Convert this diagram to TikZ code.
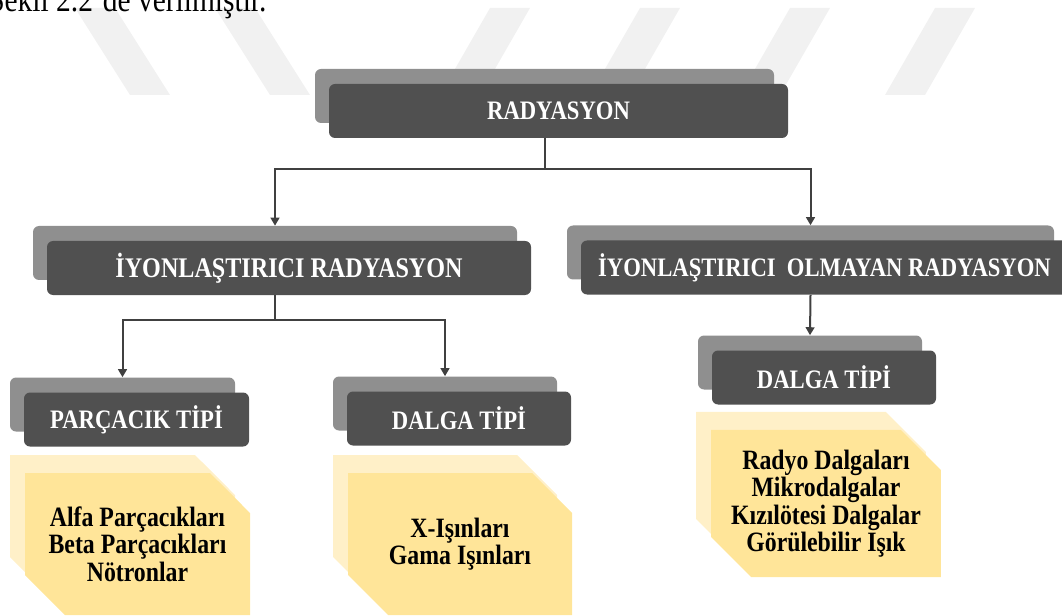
\documentclass[tikz,border=0pt]{standalone}
\usepackage{fontspec}
\setmainfont{Liberation Serif}[FakeStretch=0.85]
\usetikzlibrary{arrows.meta,shapes.misc,shadows,positioning}
\definecolor{boxdark}{RGB}{80,80,80}
\definecolor{boxgray}{RGB}{143,143,143}
\definecolor{wiregray}{RGB}{64,64,64}
\definecolor{listfront}{RGB}{255,229,153}
\definecolor{listback}{RGB}{255,240,200}
\definecolor{stripe}{RGB}{241,241,241}

\begin{document}
\begin{tikzpicture}[x=0.75pt,y=-0.75pt,
		backbox/.style = {rectangle, rounded corners=4.5pt, fill=boxgray,
			minimum height=40.5pt, inner sep=0pt},
		hdr/.style = {rectangle, rounded corners=4.5pt, fill=boxdark, text=white,
			minimum height=40.5pt, inner sep=0pt,
			font=\fontsize{20}{24}\selectfont\bfseries},
		list/.style = {chamfered rectangle,
			chamfered rectangle corners={north east,south west},
			chamfered rectangle xsep=15pt, chamfered rectangle ysep=15pt,
			fill=listfront, inner sep=0pt, align=center,
			font=\fontsize{21}{20.5}\selectfont\bfseries,
			general shadow={fill=listback, shadow xshift=-11.25pt, shadow yshift=13.5pt}},
		wire/.style = {draw=wiregray, line width=1.5pt},
		line/.style = {wire, -{Triangle[length=6pt,width=6.5pt]}},
	]
	\useasboundingbox (0,0) rectangle (1062,616);
	\clip (0,0) rectangle (1062,616);
	% page background
	\fill[stripe] (75,8) -- (115,8) -- (170,95) -- (130,95) -- cycle;
	\fill[stripe] (215,8) -- (255,8) -- (310,95) -- (270,95) -- cycle;
	\fill[stripe] (490,8) -- (530,8) -- (480,95) -- (440,95) -- cycle;
	\fill[stripe] (640,8) -- (680,8) -- (630,95) -- (590,95) -- cycle;
	\fill[stripe] (790,8) -- (830,8) -- (780,95) -- (740,95) -- cycle;
	\fill[stripe] (935,8) -- (975,8) -- (925,95) -- (885,95) -- cycle;
	\node[anchor=base west, inner sep=0pt, font=\fontsize{26}{28}\selectfont] (caption) at (-12,12) {Şekil 2.2'de verilmiştir.};
	% headers
	\node[backbox, minimum width=344.25pt] (radB) at (544.5,96) {};
	\node[hdr, minimum width=344.25pt] (rad) at ([shift={(14,15)}]radB.center) {RADYASYON};
	\node[backbox, minimum width=363pt] (ionB) at (275,253) {};
	\node[hdr, minimum width=363pt, font=\fontsize{21.3}{24}\selectfont\bfseries] (ion) at ([shift={(14,15)}]ionB.center) {İYONLAŞTIRICI RADYASYON};
	\node[backbox, minimum width=365.25pt] (olmB) at (810.5,252.5) {};
	\node[hdr, minimum width=365.25pt] (olm) at ([shift={(14,15)}]olmB.center) {İYONLAŞTIRICI\ \ OLMAYAN RADYASYON};
	\node[backbox, minimum width=168.75pt] (parB) at (122.5,404.5) {};
	\node[hdr, minimum width=168.75pt] (par) at ([shift={(14,15)}]parB.center) {PARÇACIK TİPİ};
	\node[backbox, minimum width=168pt] (dalB) at (445,403.5) {};
	\node[hdr, minimum width=168pt] (dal) at ([shift={(14,15)}]dalB.center) {DALGA TİPİ};
	\node[backbox, minimum width=168pt] (dal2B) at (810,362.5) {};
	\node[hdr, minimum width=168pt] (dal2) at ([shift={(14,15)}]dal2B.center) {DALGA TİPİ};
	% lists
	\node[list, minimum width=168.75pt, minimum height=106.5pt] (parL) at (137.5,544) {Alfa Parçacıkları\\Beta Parçacıkları\\Nötronlar};
	\node[list, minimum width=168pt, minimum height=106.5pt] (dalL) at (460,544) {X-Işınları\\Gama Işınları};
	\node[list, minimum width=166.5pt, minimum height=107.25pt] (dal2L) at (826,503.5) {Radyo Dalgaları\\Mikrodalgalar\\Kızılötesi Dalgalar\\Görülebilir Işık};
	% connectors
	\draw[wire] (rad.south -| radB.south) -- ++(0,31) coordinate (j1);
	\draw[line] (j1) -| (ionB.north);
	\draw[line] (j1) -| (olmB.north);
	\draw[wire] (ion.south -| ionB.south) -- ++(0,25) coordinate (j2);
	\draw[line] (j2) -| (parB.north);
	\draw[line] (j2) -| (dalB.north);
	\draw[line] (olm.south -| olmB.south) -- (dal2B.north);
\end{tikzpicture}
\end{document}
